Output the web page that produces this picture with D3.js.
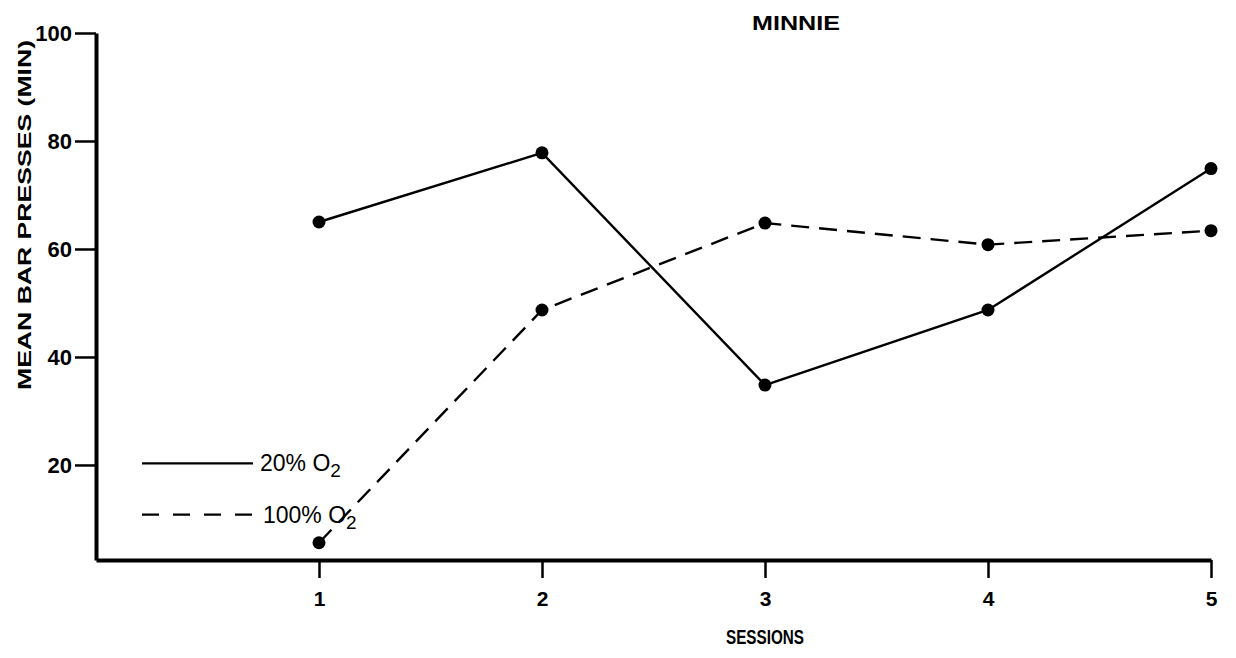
<!DOCTYPE html>
<html>
<head>
<meta charset="utf-8">
<script src="https://cdn.jsdelivr.net/npm/d3@7"></script>
<style>
  html, body { margin: 0; padding: 0; background: #fff; }
  svg { display: block; }
  text { font-family: "Liberation Sans", Arial, sans-serif; fill: #000; }
</style>
</head>
<body>
<svg id="chart" width="1236" height="658"></svg>
<script>
// ---- data ----
const sessions = [1, 2, 3, 4, 5];
const o2_20 = [65.0, 77.8, 34.8, 48.7, 74.9];
const o2_100 = [5.6, 48.7, 64.8, 60.8, 63.4];
const yTicks = [20, 40, 60, 80, 100];
const xTicks = [1, 2, 3, 4, 5];
const seriesNames = ["20% O", "100% O"];

const svg = d3.select("#chart");
const x = d3.scaleLinear().domain([0, 5]).range([96, 1211]);
const y = d3.scaleLinear().domain([2.4, 100]).range([560, 33]);

// y axis
const gy = svg.append("g").attr("transform", `translate(${x(0)},0)`)
  .call(d3.axisLeft(y).tickValues(yTicks).tickSize(21).tickSizeOuter(0).tickPadding(3));
gy.select(".domain").attr("stroke", "#000").attr("stroke-width", 4);
gy.selectAll(".tick line").attr("stroke", "#000").attr("stroke-width", 2.5);
gy.selectAll(".tick text").attr("font-size", 22).attr("font-weight", "bold")
  .attr("font-family", "Liberation Sans, Arial, sans-serif").attr("fill", "#000");

// x axis
const gx = svg.append("g").attr("transform", `translate(0,${y(2.4)})`)
  .call(d3.axisBottom(x).tickValues(xTicks).tickSize(18).tickSizeOuter(0).tickPadding(13).tickFormat(d3.format("d")));
gx.select(".domain").attr("stroke", "#000").attr("stroke-width", 4);
gx.selectAll(".tick line").attr("stroke", "#000").attr("stroke-width", 2.5);
gx.selectAll(".tick text").attr("font-size", 21).attr("font-weight", "bold")
  .attr("font-family", "Liberation Sans, Arial, sans-serif").attr("fill", "#000");

// lines
const line = d3.line().x((d, i) => x(sessions[i])).y(d => y(d));
svg.append("path").datum(o2_20).attr("d", line)
  .attr("fill", "none").attr("stroke", "#000").attr("stroke-width", 2.4);
svg.append("path").datum(o2_100).attr("d", line)
  .attr("fill", "none").attr("stroke", "#000").attr("stroke-width", 2.4)
  .attr("stroke-dasharray", "18,10");

// markers
[o2_20, o2_100].forEach(s => {
  svg.append("g").selectAll("circle").data(s).join("circle")
    .attr("cx", (d, i) => x(sessions[i])).attr("cy", d => y(d)).attr("r", 6.5)
    .attr("fill", "#000");
});

// legend
const legendY = [y(20.3), y(10.8)];
const dashes = [null, "17,14"];
seriesNames.forEach((name, i) => {
  svg.append("line").attr("x1", 142).attr("x2", 253)
    .attr("y1", legendY[i]).attr("y2", legendY[i])
    .attr("stroke", "#000").attr("stroke-width", 2.4)
    .attr("stroke-dasharray", dashes[i]);
  const t = svg.append("text").attr("x", i === 0 ? 260 : 263).attr("y", legendY[i] + 8)
    .attr("font-size", 23);
  t.append("tspan").text(name);
  t.append("tspan").attr("font-size", 19).attr("dy", 6).text("2");
});

// titles
svg.append("text").attr("x", 796).attr("y", 30).attr("text-anchor", "middle")
  .attr("font-size", 20).attr("font-weight", "bold")
  .attr("textLength", 88).attr("lengthAdjust", "spacingAndGlyphs").text("MINNIE");

svg.append("text").attr("x", x(3)).attr("y", 644).attr("text-anchor", "middle")
  .attr("font-size", 20).attr("font-weight", "bold")
  .attr("textLength", 78).attr("lengthAdjust", "spacingAndGlyphs").text("SESSIONS");

svg.append("text").attr("transform", "translate(31,215) rotate(-90)")
  .attr("text-anchor", "middle").attr("font-size", 19).attr("font-weight", "bold")
  .attr("textLength", 350).attr("lengthAdjust", "spacingAndGlyphs")
  .text("MEAN BAR PRESSES (MIN)");
</script>
</body>
</html>
